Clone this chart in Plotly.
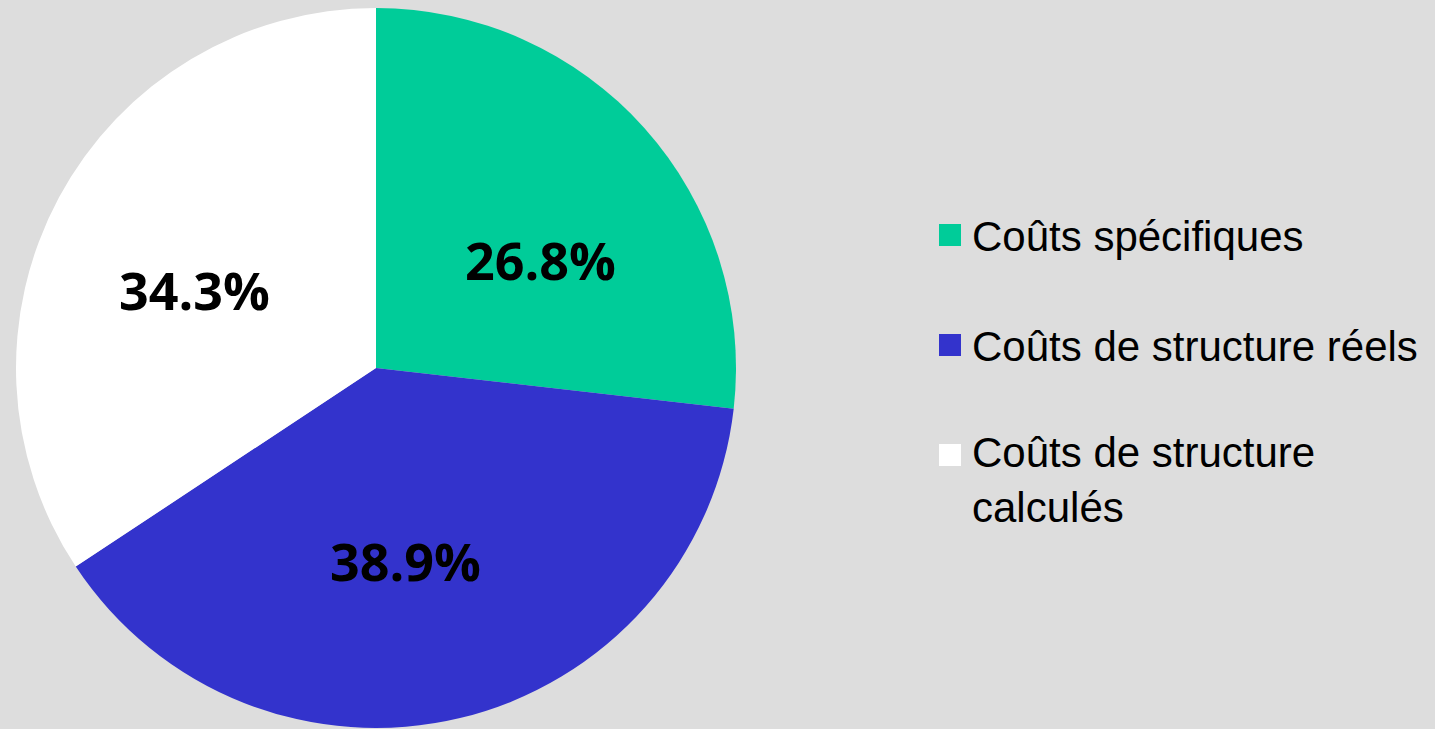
import plotly.graph_objects as go

W, H = 1435, 729

categories = ["Coûts spécifiques", "Coûts de structure réels", "Coûts de structure<br>calculés"]
values = [26.8, 38.9, 34.3]
colors = ["#00CC99", "#3333CC", "#FFFFFF"]

# layout positions (pixels) for labels / legend
label_pos = [(540, 259), (405, 560), (194, 289.5)]
legend_text_y = [236, 346, 480]
legend_square_y = [235, 345, 455]

def px(x):
    return x / W

def py(y):
    return 1 - y / H

fig = go.Figure()
fig.add_trace(go.Pie(
    labels=categories,
    values=values,
    marker=dict(colors=colors, line=dict(width=0)),
    sort=False,
    direction="clockwise",
    rotation=0,
    textinfo="none",
    hoverinfo="label+percent",
    showlegend=False,
    domain=dict(x=[px(15), px(737)], y=[py(728), py(8)]),
))

annotations = []
shapes = []
total = sum(values)
for v, (lx, ly) in zip(values, label_pos):
    annotations.append(dict(
        x=px(lx), y=py(ly), xref="paper", yref="paper",
        xanchor="center", yanchor="middle", showarrow=False,
        text="<b>%.1f%%</b>" % (v / total * 100),
        font=dict(family="Open Sans", size=52, color="#000000"),
    ))

for cat, col, ty, sy in zip(categories, colors, legend_text_y, legend_square_y):
    annotations.append(dict(
        x=px(970), y=py(ty), xref="paper", yref="paper",
        xanchor="left", yanchor="middle", align="left", showarrow=False,
        text=cat,
        font=dict(family="Liberation Sans, Arial", size=42, color="#000000"),
    ))
    shapes.append(dict(
        type="rect", xref="paper", yref="paper",
        x0=px(939), x1=px(961), y0=py(sy + 11), y1=py(sy - 11),
        fillcolor=col, line=dict(width=0),
    ))

fig.update_layout(
    width=W, height=H,
    margin=dict(l=0, r=0, t=0, b=0),
    paper_bgcolor="#DDDDDD",
    plot_bgcolor="#DDDDDD",
    annotations=annotations,
    shapes=shapes,
)

fig.write_html(
    "out.html",
    config={"displayModeBar": False},
    post_script="document.body.style.margin='0';document.body.style.padding='0';document.body.style.overflow='hidden';",
)
